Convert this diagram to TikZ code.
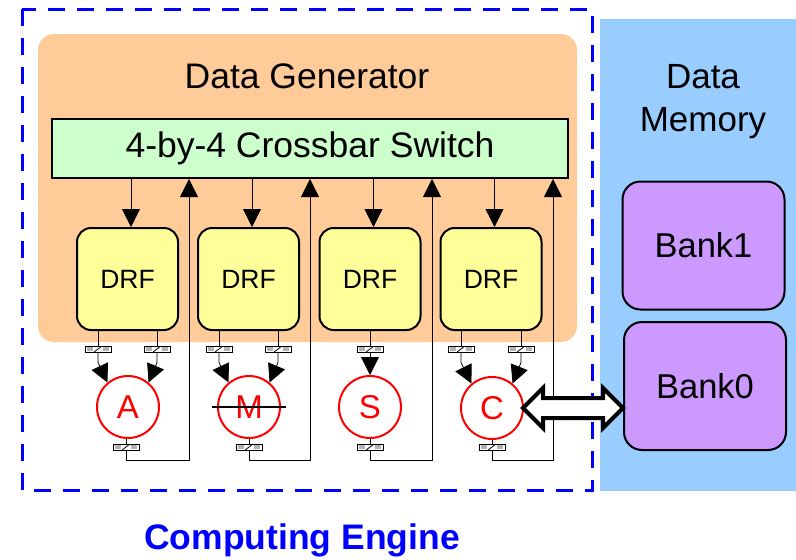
\documentclass[tikz,border=0pt]{standalone}
\usepackage{fontspec}
\setmainfont{Liberation Sans}
\usetikzlibrary{arrows.meta,calc}
\definecolor{memblue}{HTML}{99CCFF}
\definecolor{genorange}{HTML}{FFCC99}
\definecolor{xbargreen}{HTML}{CCFFCC}
\definecolor{drfyellow}{HTML}{FFFF99}
\definecolor{bankpurple}{HTML}{CC99FF}
\definecolor{engblue}{HTML}{0000FF}
\tikzset{
  big/.style={font=\fontsize{35.5}{42}\selectfont},
  drfbox/.style={draw=black, line width=2pt, fill=drfyellow, rounded corners=14pt,
    minimum width=101pt, minimum height=102pt, inner sep=0pt,
    font=\fontsize{26.5}{30}\selectfont},
  bank/.style={draw=black, line width=2pt, fill=bankpurple, rounded corners=18pt,
    minimum width=162pt, minimum height=128pt, inner sep=0pt,
    font=\fontsize{34.5}{40}\selectfont},
  unit/.style={circle, draw=red, line width=2pt, fill=white, minimum size=62pt,
    inner sep=0pt, text=red, font=\fontsize{33}{36}\selectfont},
  latch/.style={draw=black, line width=0.8pt, fill=white, minimum width=26pt,
    minimum height=6pt, inner sep=0pt,
    path picture={\draw[line width=0.8pt] ([xshift=-4pt]path picture bounding box.south)
      -- ([xshift=4pt]path picture bounding box.north);
      \fill[gray!60] ([xshift=-11pt,yshift=1pt]path picture bounding box.south) rectangle
      ([xshift=-5pt,yshift=-1pt]path picture bounding box.north);
      \fill[gray!60] ([xshift=5pt,yshift=1pt]path picture bounding box.south) rectangle
      ([xshift=11pt,yshift=-1pt]path picture bounding box.north);}},
  wire/.style={draw=black, line width=0.8pt},
  arr/.style={wire, -{Triangle[length=18pt,width=18pt]}},
  dbl/.style={draw=black, line width=4pt, fill=white, line join=miter},
}
\begin{document}
\begin{tikzpicture}[x=1pt, y=-1pt]
\useasboundingbox (0,0) rectangle (796,560);

% memory side background and computing engine frame
\fill[memblue] (600,19) rectangle (796,491);
\draw[engblue, line width=3pt, dash pattern=on 17pt off 12pt] (22,9) rectangle (592,490);
\node[text=engblue, font=\fontsize{35.5}{40}\selectfont\bfseries] (cetitle) at (302,540) {Computing Engine};

% data generator block
\fill[genorange, rounded corners=16pt] (38,34) rectangle (577,342);
\node[big] (dgtitle) at (307,76) {Data Generator};
\node[draw=black, line width=2pt, fill=xbargreen, minimum width=516pt, minimum height=59pt,
  inner sep=0pt, big] (cb) at (310,148.5) {4-by-4 Crossbar Switch};

% data memory
\node[align=center, font=\fontsize{35}{43}\selectfont] (dmtitle) at (703,102) {Data\\Memory};
\node[bank] (b1) at (703.5,245.5) {Bank1};
\node[bank] (b0) at (705,386) {Bank0};

% register files
\node[drfbox] (d1) at (127.5,279) {DRF};
\node[drfbox] (d2) at (248.5,279) {DRF};
\node[drfbox] (d3) at (370,279) {DRF};
\node[drfbox] (d4) at (491,279) {DRF};

% functional units
\node[unit] (uA) at (128,407) {A};
\node[unit] (uM) at (249,407) {M};
\node[unit] (uS) at (370,407) {S};
\node[unit] (uC) at (492,408) {C};
\draw[line width=2pt] ($(uM.west)+(-5,0)$) -- ($(uM.east)+(5,0)$);

% crossbar to register files
\foreach \d in {d1,d2,d3,d4}{
  \draw[arr] ([xshift=3.5pt]\d.north |- cb.south) -- ([xshift=3.5pt]\d.north);
}

% pipeline latches between register files and units
\node[latch] (lA1) at (98,349) {};
\node[latch] (lA2) at (157,349) {};
\node[latch] (lM1) at (219,349) {};
\node[latch] (lM2) at (278,349) {};
\node[latch] (lS1) at (370,349) {};
\node[latch] (lC1) at (461,349) {};
\node[latch] (lC2) at (521,349) {};
\node[latch] (oA) at (126,447) {};
\node[latch] (oM) at (249,447) {};
\node[latch] (oS) at (370,447) {};
\node[latch] (oC) at (492,447) {};

% register file outputs into the units
\foreach \l/\d in {lA1/d1,lA2/d1,lM1/d2,lM2/d2,lS1/d3,lC1/d4,lC2/d4}{
  \draw[wire] (\l.north |- \d.south) -- (\l.north);
}
\foreach \l/\u/\a in {lA1/uA/130,lA2/uA/50,lM1/uM/130,lM2/uM/50,lC1/uC/130,lC2/uC/50}{
  \draw[arr] (\l.south) -- ++(0,10) -- (\u.\a);
}
\draw[arr] (lS1.south) -- (uS.north);

% unit results fed back to the crossbar
\foreach \u/\o/\x in {uA/oA/189,uM/oM/310,uS/oS/432,uC/oC/553}{
  \draw[wire] (\u.south -| \o.north) -- (\o.north);
  \draw[arr] (\o.south) -- ++(0,10) -| (\x,0 |- cb.south);
}

% wide bidirectional path between unit C and Bank0
\coordinate (mt) at (b0.west |- uC.east);
\draw[dbl] ($(uC.east)+(-1,0)$) -- ++(20,-20) -- ++(0,10) -- ($(mt)+(-20,-10)$) -- ++(0,-10)
  -- (mt) -- ++(-20,20) -- ++(0,-10) -- ($(uC.east)+(19,10)$) -- ++(0,10) -- cycle;
\end{tikzpicture}
\end{document}
